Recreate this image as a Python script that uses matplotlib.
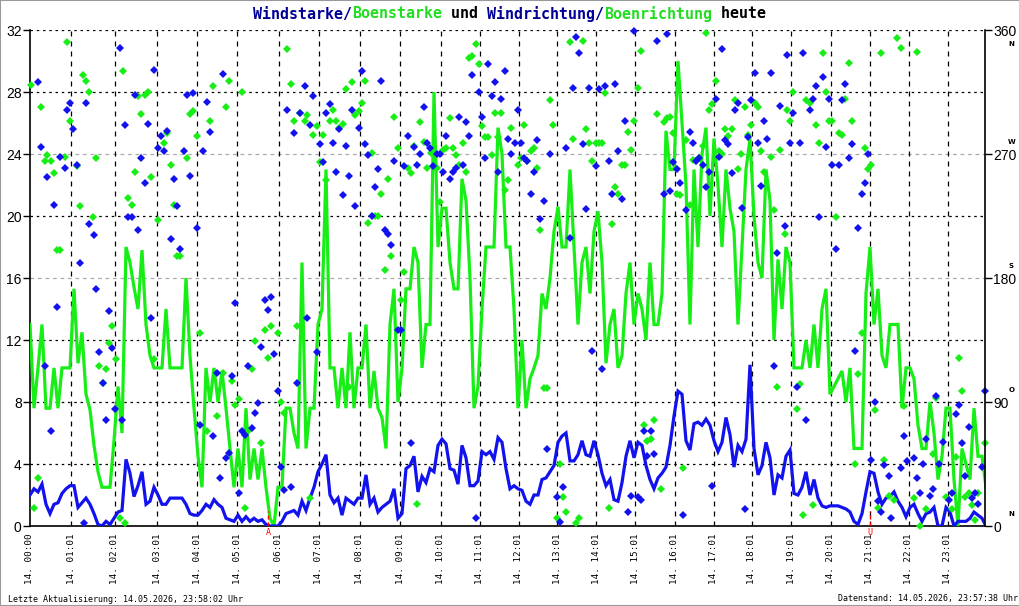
import matplotlib
matplotlib.use('Agg')
import matplotlib.pyplot as plt
from matplotlib.patches import Rectangle

# Samples across the day (one value per sample, ~6 min apart; x axis = sample number)
gust = [13, 7.6, 10.2, 13, 7.6, 7.6, 10.2, 7.6, 10.2, 10.2,
        10.2, 15.3, 10.5, 12.5, 8.5, 7.5, 5.2, 3.5, 2.5, 2.5,
        2.5, 5.5, 9, 6, 18, 17, 15.4, 14, 17.8, 13,
        11, 10.2, 10.2, 10.2, 14, 10.2, 10.2, 10.2, 10.2, 16,
        11, 7.6, 4.5, 2.5, 10.2, 8, 10.2, 8, 10, 7.6,
        5, 2.5, 5, 2.5, 7.6, 3, 5, 3, 5, 2.5,
        0.5,
        0, 2.5, 2.5, 7.6, 7.6, 6, 5, 17, 5, 7.6,
        7.6, 13, 14, 23, 10.2, 10.2, 7.6, 10.2, 7.6, 12.5,
        7.6, 10.2, 10.2, 13, 7.6, 10, 7.6, 7, 5, 13,
        15.3, 8, 10.2, 15.3, 15.3, 18, 17, 10.2, 13, 13,
        28, 18, 20.5, 20.5, 17, 15.3, 15.3, 22.4, 21, 16,
        7.6, 9, 14, 18, 18, 18, 25.7, 24, 18, 18,
        14, 7.6, 12, 7.6, 9.5, 10.2, 11, 15, 14, 16,
        19, 20.6, 18, 18, 23, 18, 13, 17, 18, 15,
        19, 20.3, 17, 10.5, 13, 14, 10.2, 11, 15, 17,
        13, 15, 14, 12, 17, 13, 13, 15, 25.5, 23,
        23, 30, 26, 22, 13, 23, 18, 24, 25.7, 20,
        25, 22, 18, 23, 20.5, 19, 13, 18, 23, 25,
        20, 17, 16, 23, 21, 12, 17.2, 14, 18, 17,
        10.2, 10.2, 10.2, 12, 10.2, 13, 10.2, 14, 15.3, 8.5,
        9, 9.5, 10, 8, 10.2, 5, 5, 5, 15, 18,
        13, 15.3, 11, 10.2, 13, 13, 13, 7.6, 10.2, 10.2,
        9.5, 6.5, 5, 5, 8, 6, 3, 4.5, 7.6, 7.6,
        3, 0, 5, 4, 3, 7.6, 4.5, 4.5, 2.5]

wind = [2.0, 2.4, 2.2, 2.7, 1.4, 0.8, 1.4, 1.5, 2.1, 2.4,
        2.6, 2.6, 1.2, 1.5, 1.8, 1.4, 0.8, 0.1, 0, 0.3,
        0.1, 0.5, 0.9, 1.0, 4.3, 3.4, 1.9, 2.6, 3.5, 1.4,
        1.6, 2.5, 2.0, 1.4, 1.4, 1.8, 1.8, 1.8, 1.8, 1.4,
        0.8, 0.7, 0.7, 1.0, 1.4, 1.2, 1.7, 1.4, 1.2, 0.5,
        0.4, 0.3, 0.7, 0.3, 0.6, 0.3, 0.5, 0.3, 0.4, 0.1,
        0,
        0, 0, 0.3, 0.8, 0.9, 1.0, 0.7, 1.6, 1.0, 1.8,
        2.5, 3.5, 4.0, 4.6, 2.0, 1.5, 1.8, 0.7, 1.8, 1.6,
        1.4, 1.8, 1.8, 3.3, 1.4, 1.8, 0.9, 1.2, 1.4, 1.6,
        2.4, 0.5, 0.8, 3.7, 3.9, 4.5, 2.2, 3.2, 2.8, 3.7,
        3.5, 5.2, 5.6, 5.3, 3.7, 3.6, 2.7, 5.2, 4.4, 2.6,
        2.6, 2.9, 4.8, 4.6, 4.8, 4.3, 5.7, 5.4, 3.7, 2.4,
        2.6, 2.4, 2.3, 1.6, 1.4, 2.0, 2.0, 3.0, 3.1, 3.5,
        3.9, 5.4, 5.8, 6.0, 4.2, 4.2, 4.6, 5.5, 4.6, 4.5,
        5.5, 4.6, 3.4, 2.6, 3.0, 1.7, 1.6, 2.8, 4.5, 5.5,
        4.4, 5.4, 5.2, 3.9, 3.0, 2.4, 3.1, 3.4, 3.8, 5.2,
        7.1, 8.7, 8.5, 5.5, 4.9, 6.6, 6.7, 6.5, 6.9, 6.5,
        5.5, 4.8, 5.4, 7.0, 5.9, 3.8, 5.2, 4.8, 5.6, 10.4,
        5.0, 3.3, 3.9, 5.4, 4.4, 2.0, 3.3, 3.1, 4.5, 4.9,
        2.1, 2.0, 2.5, 3.5, 2.0, 3.0, 1.8, 1.3, 1.2, 1.3,
        1.3, 1.3, 1.2, 1.1, 0.9, 0.3, 0.1, 0.8, 2.2, 3.5,
        3.4, 2.2, 1.4, 1.8, 1.9, 2.2, 1.6, 1.2, 0.6, 1.2,
        1.4, 0.8, 0.3, 0.8, 0.9, 1.2, 0, 0, 1.2, 0.9,
        0, 0.3, 0.3, 0.3, 0.5, 0.9, 0.7, 0.5, 0]

# (sample, degrees)
wind_dir = [
    (2.0, 322), (2.8, 275), (3.7, 116), (4.3, 253), (5.3, 69), (6.0, 233), (6.8, 159), (7.6, 268),
    (8.7, 260), (9.3, 302), (10.1, 307), (10.8, 288), (11.7, 262), (12.6, 191), (13.4, 2), (14.1, 307),
    (14.8, 219), (15.9, 211), (16.6, 172), (17.3, 126), (18.2, 104), (19.1, 77), (19.8, 156), (20.6, 129),
    (21.3, 85), (22.4, 347), (23.1, 77), (23.8, 291), (24.5, 224), (25.6, 224), (26.3, 313), (27.1, 215),
    (27.8, 267), (28.8, 249), (29.6, 292), (30.3, 151), (31.1, 331), (32.1, 274), (32.8, 283), (33.6, 272),
    (34.3, 287), (35.3, 208), (36.0, 252), (36.8, 232), (37.6, 201), (38.5, 272), (39.3, 313), (40.1, 254),
    (40.8, 314), (41.8, 216), (42.6, 73), (43.3, 272), (44.2, 308), (45.1, 286), (45.8, 65), (46.7, 111),
    (47.4, 35), (48.2, 328), (49.1, 49), (49.8, 53), (50.6, 109), (51.3, 162), (52.3, 24), (53.1, 69),
    (53.8, 66), (54.6, 116), (55.6, 71), (56.3, 82), (57.1, 89), (57.8, 130), (58.8, 164), (59.6, 157),
    (60.3, 166), (61.0, 125), (62.0, 98), (62.8, 43), (63.5, 26), (64.3, 302), (65.3, 28), (66.0, 285),
    (66.8, 104), (67.6, 300), (68.7, 319), (69.3, 151), (70.1, 291), (70.8, 312), (71.8, 126), (72.6, 277),
    (73.3, 264), (74.1, 300), (75.1, 306), (75.8, 278), (76.6, 257), (77.3, 288), (78.3, 240), (79.1, 276),
    (79.8, 254), (80.6, 302), (81.3, 232), (82.3, 289), (83.1, 330), (83.8, 277), (84.6, 269), (85.6, 225),
    (86.3, 246), (87.1, 259), (87.8, 323), (88.8, 215), (89.6, 212), (90.3, 204), (91.1, 265), (92.1, 142),
    (92.8, 142), (93.6, 261), (94.4, 283), (95.3, 60), (96.0, 275), (96.8, 262), (97.6, 270), (98.6, 304),
    (99.3, 278), (100.1, 274), (100.8, 261), (101.8, 270), (102.6, 270), (103.3, 257), (104.1, 283),
    (105.1, 252), (105.8, 257), (106.6, 260), (107.3, 297), (108.3, 262), (109.1, 293), (109.8, 283),
    (110.6, 327), (111.6, 6), (112.3, 315), (113.1, 297), (113.8, 267), (114.6, 335), (115.6, 312),
    (116.3, 322), (117.1, 257), (117.8, 310), (118.8, 330), (119.6, 281), (120.3, 270), (121.2, 278),
    (122.0, 302), (122.8, 278), (123.6, 267), (124.3, 265), (125.3, 241), (126.1, 257), (126.8, 280),
    (127.6, 223), (128.4, 236), (129.3, 56), (130.1, 270), (131.8, 21), (132.6, 3), (133.3, 28),
    (134.1, 274), (135.1, 209), (135.8, 318), (136.6, 355), (137.3, 343), (138.3, 277), (139.1, 230),
    (139.8, 318), (140.6, 127), (141.6, 261), (142.3, 317), (143.1, 114), (143.8, 319), (144.8, 265),
    (145.6, 241), (146.3, 321), (147.1, 272), (148.1, 237), (148.8, 294), (149.6, 10), (150.3, 22),
    (151.1, 359), (152.1, 21), (152.8, 19), (153.6, 69), (154.3, 51), (155.3, 69), (156.0, 52),
    (156.8, 352), (158.6, 241), (159.3, 357), (160.1, 243), (160.8, 264), (161.8, 259), (162.6, 249),
    (163.3, 8), (164.1, 229), (165.1, 286), (165.8, 278), (166.6, 265), (167.3, 267), (168.3, 262),
    (169.1, 246), (169.8, 257), (170.6, 29), (171.6, 310), (172.3, 268), (173.1, 346), (173.8, 280),
    (174.6, 277), (175.6, 256), (176.3, 302), (177.1, 307), (178.1, 231), (178.8, 12), (179.6, 282),
    (180.3, 309), (181.3, 329), (182.1, 278), (182.8, 247), (183.6, 294), (184.3, 281), (185.3, 329),
    (186.1, 116), (186.8, 198), (187.6, 305), (188.7, 218), (189.3, 342), (190.1, 278), (190.8, 300),
    (191.8, 101), (192.6, 278), (193.3, 343), (194.1, 77), (195.1, 302), (195.8, 310), (196.6, 319),
    (197.3, 224), (198.3, 326), (199.1, 275), (199.8, 310), (200.6, 262), (201.6, 201), (202.3, 262),
    (203.1, 309), (203.8, 321), (204.8, 267), (205.6, 277), (206.3, 127), (207.1, 216), (208.1, 241),
    (208.8, 249), (209.6, 270), (210.3, 48), (211.3, 90), (212.1, 18), (212.8, 10), (213.6, 44),
    (214.7, 36), (215.3, 6), (217.7, 42), (218.4, 65), (219.3, 47), (220.9, 49), (221.8, 35), (222.6, 24),
    (223.3, 45), (224.1, 63), (225.1, 22), (225.8, 27), (226.6, 94), (227.3, 45), (228.3, 61), (229.8, 19),
    (230.6, 24), (231.6, 81), (232.3, 88), (233.1, 60), (233.8, 36), (234.8, 72), (235.6, 20), (236.3, 24),
    (237.1, 16), (238.1, 43), (238.8, 98)]

gust_dir = [
    (0.3, 320), (1.0, 13), (2.1, 35), (2.8, 304), (3.7, 265), (4.3, 269), (5.3, 265), (6.1, 256),
    (6.8, 200), (7.6, 200), (8.7, 268), (9.3, 351), (10.1, 294), (11.7, 261), (12.6, 232), (13.3, 327),
    (14.1, 323), (14.8, 315), (15.8, 224), (16.6, 267), (17.3, 116), (18.2, 104), (19.1, 114), (19.8, 133),
    (20.5, 145), (21.4, 121), (22.4, 6), (23.2, 330), (23.8, 2), (24.5, 238), (25.6, 233), (26.3, 257),
    (27.1, 312), (27.8, 299), (28.8, 313), (29.6, 315), (30.3, 253), (31.1, 121), (32.1, 222), (33.6, 278),
    (34.3, 285), (35.3, 262), (36.0, 233), (36.7, 196), (37.6, 196), (39.3, 267), (40.1, 299), (40.8, 301),
    (41.8, 283), (42.6, 140), (44.2, 69), (45.1, 294), (45.8, 319), (46.7, 80), (48.2, 111), (49.1, 304),
    (49.8, 323), (50.6, 105), (51.3, 88), (52.3, 92), (53.1, 315), (53.8, 13), (54.6, 69), (55.6, 114),
    (56.3, 134), (57.8, 60), (58.8, 142), (59.6, 122), (60.3, 145), (62.0, 140), (62.8, 90), (63.5, 82),
    (64.3, 346), (65.3, 321), (66.1, 294), (66.8, 145), (67.6, 300), (68.7, 294), (69.3, 298), (70.1, 20),
    (70.8, 284), (71.8, 290), (72.6, 264), (73.3, 284), (74.1, 251), (75.1, 294), (75.8, 302), (76.6, 294),
    (77.3, 289), (78.3, 292), (79.1, 317), (79.8, 101), (80.6, 322), (81.3, 298), (82.3, 301), (83.1, 307),
    (83.8, 323), (84.6, 220), (85.6, 271), (86.3, 225), (87.1, 225), (87.8, 241), (88.8, 186), (89.6, 252),
    (90.3, 196), (91.1, 297), (92.1, 274), (92.8, 164), (93.6, 184), (94.4, 260), (95.3, 256), (96.0, 276),
    (96.8, 16), (97.6, 293), (98.6, 279), (99.3, 260), (100.3, 271), (101.8, 260), (102.6, 235),
    (103.3, 273), (104.1, 274), (105.1, 296), (105.8, 274), (106.6, 269), (107.3, 262), (108.3, 278),
    (109.1, 257), (109.8, 340), (110.6, 341), (111.6, 350), (112.3, 335), (113.1, 290), (113.8, 282),
    (114.6, 282), (115.6, 269), (116.3, 300), (117.1, 282), (117.8, 300), (118.8, 244), (119.6, 251),
    (120.3, 289), (122.0, 262), (122.8, 267), (123.6, 291), (124.3, 265), (125.3, 272), (126.1, 274),
    (126.8, 260), (127.6, 215), (128.4, 100), (129.3, 100), (130.1, 309), (130.8, 291), (131.8, 6),
    (132.6, 45), (133.3, 21), (134.1, 10), (135.1, 351), (135.8, 281), (136.6, 2), (137.3, 6), (138.3, 352),
    (139.1, 288), (139.8, 278), (140.6, 265), (141.6, 278), (142.3, 278), (143.1, 278), (143.8, 314),
    (144.8, 13), (145.6, 219), (146.3, 246), (147.1, 241), (148.1, 262), (148.8, 262), (149.6, 286),
    (150.3, 273), (151.1, 294), (152.1, 318), (152.8, 345), (153.6, 73), (154.3, 62), (155.3, 63),
    (156.0, 77), (156.8, 299), (157.7, 27), (158.6, 293), (159.3, 296), (160.1, 297), (160.8, 285),
    (161.8, 241), (162.6, 240), (163.3, 42), (164.1, 280), (165.1, 233), (165.8, 266), (166.6, 265),
    (167.3, 267), (168.3, 276), (169.1, 358), (169.8, 302), (170.6, 306), (171.6, 323), (172.3, 272),
    (173.1, 270), (173.8, 288), (174.6, 283), (175.6, 288), (176.3, 309), (177.1, 259), (177.8, 270),
    (178.8, 304), (179.6, 284), (180.3, 291), (181.3, 307), (182.1, 304), (182.8, 272), (183.6, 257),
    (185.3, 268), (186.1, 229), (186.8, 101), (187.6, 273), (188.7, 212), (189.3, 302), (190.1, 294),
    (190.8, 315), (191.8, 85), (192.6, 103), (193.3, 8), (194.1, 309), (195.1, 307), (195.8, 15),
    (196.6, 291), (197.3, 278), (198.3, 343), (199.1, 315), (199.8, 294), (200.6, 294), (201.6, 224),
    (202.3, 285), (203.1, 284), (203.8, 310), (204.8, 336), (205.6, 294), (206.3, 45), (207.1, 110),
    (208.1, 140), (208.8, 274), (209.6, 259), (210.3, 262), (211.3, 84), (212.1, 13), (212.8, 343),
    (213.6, 48), (214.7, 22), (216.1, 19), (216.8, 354), (217.7, 347), (218.5, 87), (220.9, 20),
    (221.8, 344), (222.6, 0), (224.1, 12), (225.8, 52), (226.6, 93), (229.1, 21), (230.6, 12), (231.6, 50),
    (232.3, 122), (233.1, 98), (233.8, 21), (234.8, 24), (235.6, 15), (236.3, 4), (237.1, 24), (238.8, 60)]

# hour ticks (sample number) and their labels
hour_pos = [0, 10.3, 21.2, 31.8, 41.8, 51.8, 62.2, 72.2, 82.4, 92.6, 102.7, 112.4,
            122.2, 131.8, 141.6, 151.3, 161.2, 170.9, 180.5, 190.3, 200.2, 209.9, 219.7, 229.5]
hour_labels = ['14. 00:00'] + ['14. %02d:01' % h for h in range(1, 24)]
sunrise, sunset = 59.5, 210.0

left_ticks = [0, 4, 8, 12, 16, 20, 24, 28, 32]
right_ticks = [0, 90, 180, 270, 360]
right_letters = ['N', 'O', 'S', 'W', 'N']

BLUE = '#1212ee'
GREEN = '#16ee16'

fig = plt.figure(figsize=(10.2, 6.06), dpi=100)
ax = fig.add_axes([30/1020, 80/606, 955/1020, 496/606])
ax.set_xlim(0, 238.75)
ax.set_ylim(0, 32)

# grid
for v in left_ticks[1:]:
    if v in (16, 24):
        ax.axhline(v, color='#aaaaaa', lw=0.9, ls=(0, (3, 3)), zorder=1)
    else:
        ax.axhline(v, color='black', lw=0.9, ls=(0, (2, 3)), zorder=1)
for p in hour_pos[1:]:
    ax.axvline(p, color='black', lw=0.9, ls=(0, (4, 4)), zorder=1)

x = list(range(len(gust)))
ax.plot(x, gust, color=GREEN, lw=2.3, zorder=3, solid_joinstyle='miter')
ax.plot(x, wind, color=BLUE, lw=2.3, zorder=4, solid_joinstyle='miter')

# sunrise / sunset marks
for pos, letter in [(sunrise, 'A'), (sunset, 'U')]:
    ax.plot([pos, pos], [0, 1.0], color='red', lw=1, ls=(0, (3, 2)), zorder=5)
    ax.text(pos, -0.15, letter, color='red', fontsize=6, family='DejaVu Sans Mono',
            ha='center', va='top', clip_on=False)

ax.set_xticks(hour_pos)
ax.set_xticklabels(hour_labels, rotation=90, family='DejaVu Sans Mono', fontsize=6.7, va='top')
ax.tick_params(axis='x', length=0, pad=5)
ax.set_yticks(left_ticks)
ax.set_yticklabels([str(v) for v in left_ticks], family='Liberation Sans', fontsize=10)
ax.tick_params(axis='y', length=5, width=1, pad=1)

for side in ['top', 'right']:
    ax.spines[side].set_visible(False)
ax.spines['left'].set_linewidth(1.2)
ax.spines['bottom'].set_linewidth(1.2)

ax2 = ax.twinx()
ax2.set_ylim(0, 360)
ax2.set_yticks(right_ticks)
ax2.set_yticklabels([str(v) for v in right_ticks], family='Liberation Sans', fontsize=10)
ax2.tick_params(axis='y', length=5, width=1, pad=1)
for side in ['top', 'left', 'bottom']:
    ax2.spines[side].set_visible(False)
ax2.spines['right'].set_linewidth(1.2)

gx = [p[0] for p in gust_dir]
gy = [p[1] for p in gust_dir]
wx = [p[0] for p in wind_dir]
wy = [p[1] for p in wind_dir]
ax2.plot(gx, gy, ls='none', marker='D', markersize=4.2, color=GREEN, mew=0, clip_on=False)
ax2.plot(wx, wy, ls='none', marker='D', markersize=4.2, color=BLUE, mew=0, clip_on=False)

for v, letter in zip(right_ticks, right_letters):
    off = -10 if v == 360 else 9
    ax2.annotate(letter, (1, v), xycoords=('axes fraction', 'data'), xytext=(19, off),
                 textcoords='offset points', fontsize=5, fontweight='bold',
                 family='DejaVu Sans', ha='center', va='center')

# multi-coloured title, monospace so each piece starts at a fixed char offset
title_parts = [('Windstarke/', '#000099'), ('Boenstarke', '#22dd22'), (' und ', 'black'),
               ('Windrichtung/', '#000099'), ('Boenrichtung', '#22dd22'), (' heute', 'black')]
cw = 9.0
n = 0
for txt, col in title_parts:
    fig.text((253 + n * cw) / 1020, 1 - 14 / 606, txt, color=col, fontsize=10.8,
             family='DejaVu Sans Mono', fontweight='bold', ha='left', va='center')
    n += len(txt)

fig.text(8 / 1020, 1 - 599 / 606, 'Letzte Aktualisierung: 14.05.2026, 23:58:02 Uhr',
         fontsize=6, family='DejaVu Sans Mono', ha='left', va='center')
fig.text(1018 / 1020, 1 - 599 / 606, 'Datenstand: 14.05.2026, 23:57:38 Uhr',
         fontsize=6, family='DejaVu Sans Mono', ha='right', va='center')

fig.patches.append(Rectangle((0, 0), 1, 1, transform=fig.transFigure, fill=False,
                             edgecolor='#999999', lw=1.5))

fig.savefig('out.png', dpi=100)
